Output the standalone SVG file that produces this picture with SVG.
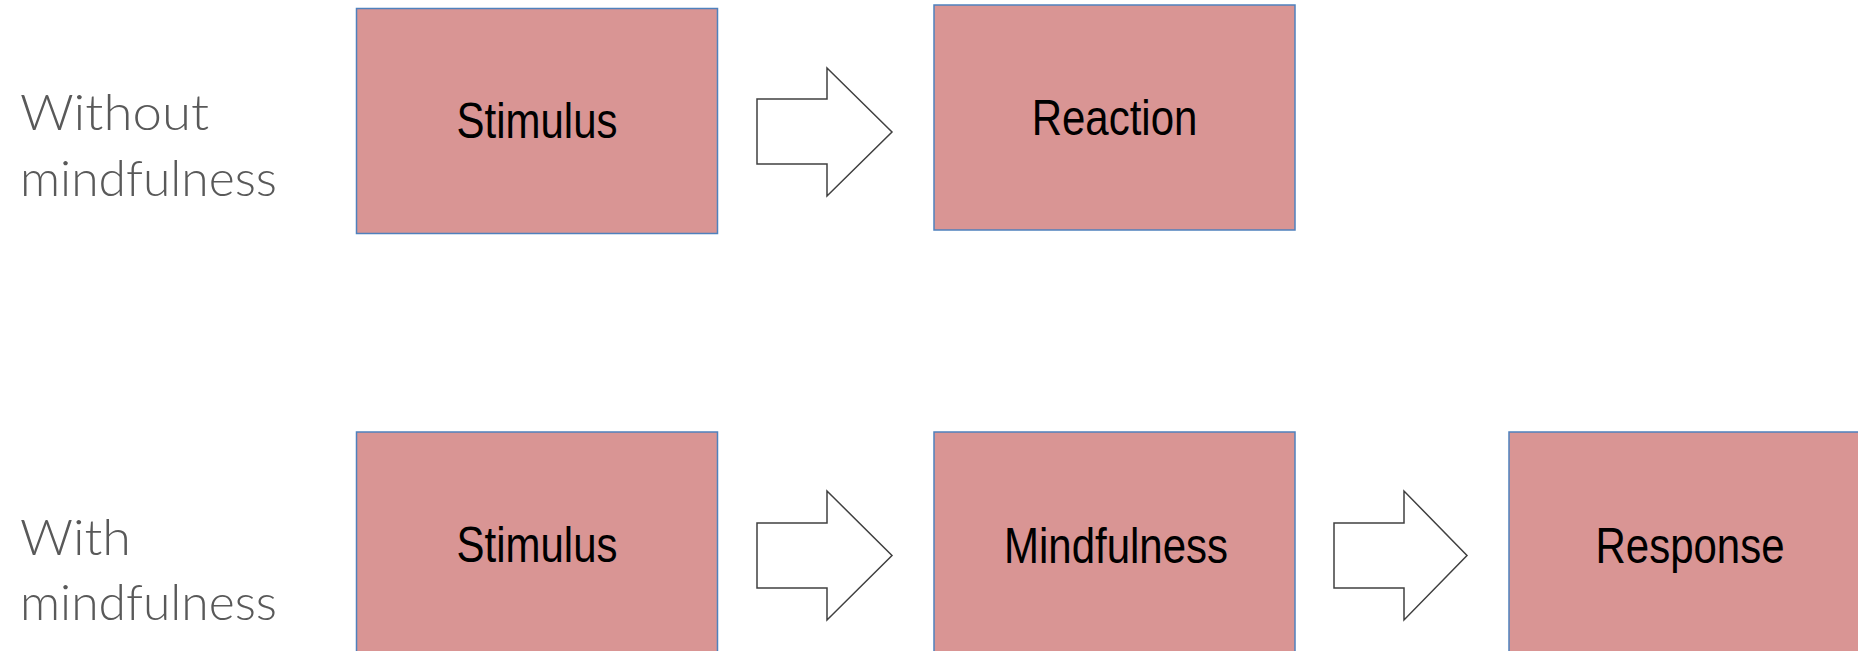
<svg xmlns="http://www.w3.org/2000/svg" width="1858" height="651" viewBox="0 0 1858 651">
<style>
.box{fill:#D99594;stroke:#4F81BD;stroke-width:1.5}
.bt{font-family:"Liberation Sans",Arial,sans-serif;font-size:42px;fill:#000;text-anchor:middle}
.lbl{font-family:Lato,"Open Sans",sans-serif;font-weight:300;font-size:50px;fill:#595959}
.arr{fill:#fff;stroke:#404040;stroke-width:1.5;stroke-linejoin:miter}
</style>
<rect width="1858" height="651" fill="#fff"/>
<g id="label-without">
<text class="lbl" x="20" y="130" textLength="189" lengthAdjust="spacingAndGlyphs">Without</text>
<text class="lbl" x="20" y="196" textLength="257" lengthAdjust="spacingAndGlyphs">mindfulness</text>
</g>
<g id="label-with">
<text class="lbl" x="20" y="555" textLength="111" lengthAdjust="spacingAndGlyphs">With</text>
<text class="lbl" x="20" y="620" textLength="257" lengthAdjust="spacingAndGlyphs">mindfulness</text>
</g>
<g id="stimulus1">
<rect class="box" x="356.5" y="8.5" width="361" height="225"/>
<text class="bt" transform="translate(537,138) scale(1,1.18)">Stimulus</text>
</g>
<g id="reaction">
<rect class="box" x="934" y="5" width="361" height="225"/>
<text class="bt" transform="translate(1114.5,135) scale(1,1.18)">Reaction</text>
</g>
<g id="stimulus2">
<rect class="box" x="356.5" y="432" width="361" height="240"/>
<text class="bt" transform="translate(537,562) scale(1,1.18)">Stimulus</text>
</g>
<g id="mindfulness">
<rect class="box" x="934" y="432" width="361" height="240"/>
<text class="bt" transform="translate(1116,563) scale(1,1.18)">Mindfulness</text>
</g>
<g id="response">
<rect class="box" x="1509" y="432" width="361" height="240"/>
<text class="bt" transform="translate(1690,563) scale(1,1.18)">Response</text>
</g>
<g id="connectors">
<polygon class="arr" points="757,99 827,99 827,68 892,132 827,196 827,164 757,164"/>
<polygon class="arr" points="757,523 827,523 827,491 892,555.5 827,620 827,588 757,588"/>
<polygon class="arr" points="1334,523 1404,523 1404,491 1467,555.5 1404,620 1404,588 1334,588"/>
</g>
</svg>
